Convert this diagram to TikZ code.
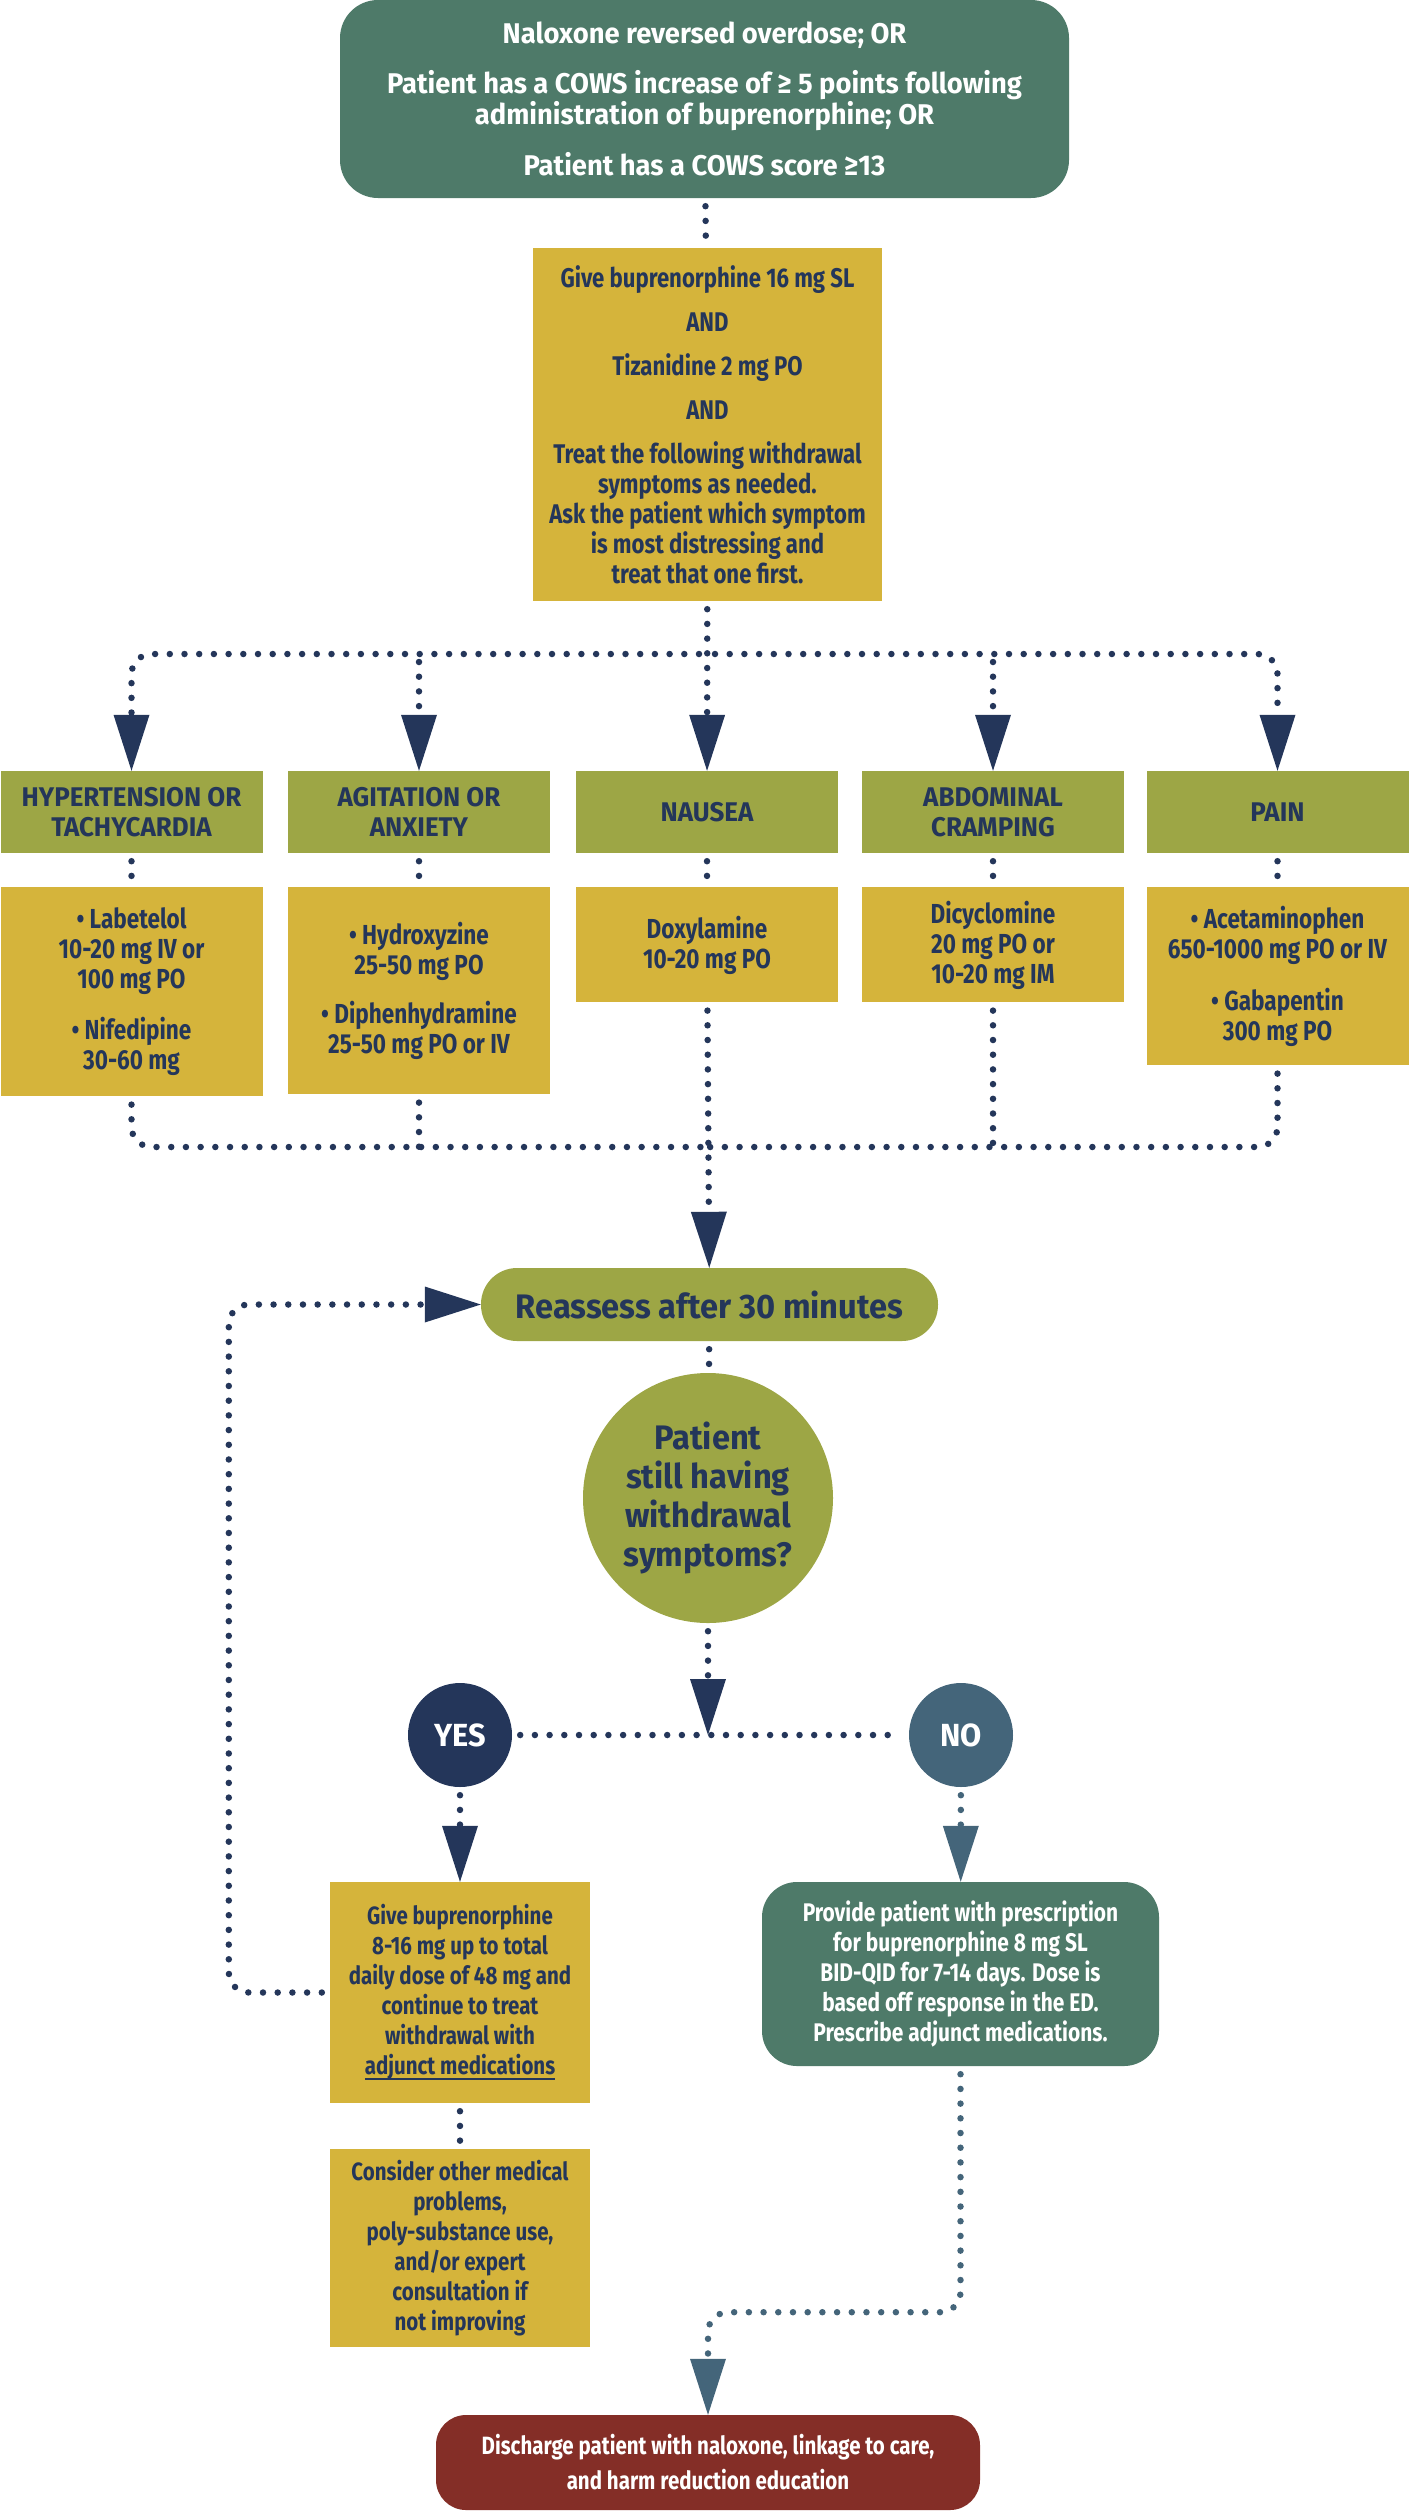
\documentclass[tikz,border=0pt]{standalone}
\usepackage{fontspec}
\setmainfont{Fira Sans}[FakeStretch=0.82]
\newfontfamily\widefont{Fira Sans}[FakeStretch=0.96]
\usetikzlibrary{arrows.meta, positioning, shapes.geometric}
\definecolor{pinegreen}{HTML}{4E7A69}
\definecolor{mustard}{HTML}{D5B43B}
\definecolor{olivegreen}{HTML}{9DA645}
\definecolor{navyblue}{HTML}{24365A}
\definecolor{slateblue}{HTML}{44657A}
\definecolor{brickred}{HTML}{842E27}
\newcommand{\medunder}[1]{\setbox0\hbox{#1}\rlap{\rule[-5pt]{\wd0}{2pt}}\box0}

\begin{document}
\begin{tikzpicture}[
    x=1pt, y=-1pt,
    every node/.style={font=\bfseries\fontsize{25}{30}\selectfont, align=center, inner sep=0pt},
    tealbox/.style={rectangle, rounded corners=38pt, fill=pinegreen, text=white},
    goldbox/.style={rectangle, fill=mustard, text=navyblue},
    symbox/.style={rectangle, fill=olivegreen, text=navyblue, minimum width=262pt, minimum height=82pt,
                   font=\widefont\bfseries\fontsize{27}{30}\selectfont},
    medbox/.style={goldbox, minimum width=262pt, font=\bfseries\fontsize{27.5}{30}\selectfont},
    answer/.style={circle, text=white, minimum size=104pt, font=\widefont\bfseries\fontsize{32}{32}\selectfont},
    dotline/.style={color=navyblue, line width=6.5pt, line cap=round, dash pattern=on 0pt off 14.7pt, shorten <=8pt},
    arr/.style={-{Triangle[length=56pt, width=36pt, line width=0pt]}}
]
\useasboundingbox (0,0) rectangle (1409,2511);

\node[tealbox, minimum width=729pt, minimum height=198pt, font=\widefont\bfseries\fontsize{28.5}{27}\selectfont] (trigger) at (704.5,99)
  {Naloxone reversed overdose; OR\\[21pt]
   Patient has a COWS increase of ≥ 5 points following\\administration of buprenorphine; OR\\[21pt]
   Patient has a COWS score ≥13};
\node[goldbox, minimum width=349pt, minimum height=353pt, font=\bfseries\fontsize{27}{30}\selectfont] (induce) at (707.5,424.5)
  {Give buprenorphine 16 mg SL\\[14pt] AND\\[14pt] Tizanidine 2 mg PO\\[14pt] AND\\[14pt]
   Treat the following withdrawal\\symptoms as needed.\\Ask the patient which symptom\\is most distressing and\\treat that one first.};

\node[symbox] (htn) at (131.5,812) {HYPERTENSION OR\\TACHYCARDIA};
\node[symbox] (agit) at (419,812) {AGITATION OR\\ANXIETY};
\node[symbox] (naus) at (707,812) {NAUSEA};
\node[symbox] (cramp) at (993,812) {ABDOMINAL\\CRAMPING};
\node[symbox] (pain) at (1277.5,812) {PAIN};

\node[medbox, below=34pt of htn, minimum height=209pt] (htnrx) {• Labetelol\\10-20 mg IV or\\100 mg PO\\[21pt]• Nifedipine\\30-60 mg};
\node[medbox, below=34pt of agit, minimum height=207pt] (agitrx) {• Hydroxyzine\\25-50 mg PO\\[19pt]• Diphenhydramine\\25-50 mg PO or IV};
\node[medbox, below=34pt of naus, minimum height=115pt] (nausrx) {Doxylamine\\10-20 mg PO};
\node[medbox, below=34pt of cramp, minimum height=115pt] (cramprx) {Dicyclomine\\20 mg PO or\\10-20 mg IM};
\node[medbox, below=34pt of pain, minimum height=178pt] (painrx) {• Acetaminophen\\650-1000 mg PO or IV\\[22pt]• Gabapentin\\300 mg PO};

\node[rectangle, rounded corners=36pt, fill=olivegreen, text=navyblue, minimum width=457pt, minimum height=73pt,
  font=\widefont\bfseries\fontsize{34}{36}\selectfont] (reassess) at (709.5,1304.5) {Reassess after 30 minutes};
\node[circle, fill=olivegreen, text=navyblue, minimum size=250pt, font=\widefont\bfseries\fontsize{34}{39}\selectfont] (still) at (708,1498)
  {Patient\\still having\\withdrawal\\symptoms?};

\node[answer, fill=navyblue] (yes) at (460,1735) {YES};
\node[answer, fill=slateblue] (no) at (961,1735) {NO};
\coordinate (fork) at (708,1735);

\node[goldbox, minimum width=260pt, minimum height=221pt] (repeat) at (460,1992.5)
  {Give buprenorphine\\8-16 mg up to total\\daily dose of 48 mg and\\continue to treat\\withdrawal with\\\medunder{adjunct medications}};
\node[goldbox, minimum width=260pt, minimum height=198pt, below=46pt of repeat] (consider)
  {Consider other medical\\problems,\\poly-substance use,\\and/or expert\\consultation if\\not improving};
\node[tealbox, rounded corners=35pt, minimum width=397pt, minimum height=184pt, font=\bfseries\fontsize{25.5}{30}\selectfont] (script) at (960.5,1974)
  {Provide patient with prescription\\for buprenorphine 8 mg SL\\BID-QID for 7-14 days. Dose is\\based off response in the ED.\\Prescribe adjunct medications.};
\node[rectangle, rounded corners=30pt, fill=brickred, text=white, minimum width=544pt, minimum height=95pt,
  font=\bfseries\fontsize{25}{35}\selectfont] (discharge) at (708,2462.5)
  {Discharge patient with naloxone, linkage to care,\\and harm reduction education};

\coordinate (split) at (707,654);
\coordinate (merge) at (707,1147);
\draw[dotline, shorten >=8pt] (trigger) -- (induce);
\draw[dotline, arr] (induce) -- (naus);
\draw[dotline, arr, rounded corners=20pt] (split) -| (htn);
\draw[dotline, arr, rounded corners=20pt] (split) -| (pain);
\draw[dotline, arr] (split -| agit) -- (agit);
\draw[dotline, arr] (split -| cramp) -- (cramp);
\draw[dotline, shorten >=8pt] (htn) -- (htnrx);
\draw[dotline, shorten >=8pt] (agit) -- (agitrx);
\draw[dotline, shorten >=8pt] (naus) -- (nausrx);
\draw[dotline, shorten >=8pt] (cramp) -- (cramprx);
\draw[dotline, shorten >=8pt] (pain) -- (painrx);
\draw[dotline, rounded corners=20pt] (htnrx) |- (merge);
\draw[dotline, rounded corners=20pt] (painrx) |- (merge);
\draw[dotline] (agitrx) -- (agitrx |- merge);
\draw[dotline] (cramprx) -- (cramprx |- merge);
\draw[dotline, arr] (nausrx) -- (reassess);
\draw[dotline, shorten >=8pt] (reassess) -- (still);
\draw[dotline, arr] (still) -- (fork);
\draw[dotline, shorten >=8pt] (yes) -- (no);
\draw[dotline, arr] (yes) -- (repeat);
\draw[dotline, arr, color=slateblue] (no) -- (script);
\draw[dotline, shorten >=8pt] (repeat) -- (consider);
\draw[dotline, arr, rounded corners=20pt] (repeat.west) -- ++(-101,0) |- (reassess.west);
\draw[dotline, arr, rounded corners=20pt, color=slateblue] (script.south) -- ++(0,246) -| (discharge.north);
\end{tikzpicture}
\end{document}
